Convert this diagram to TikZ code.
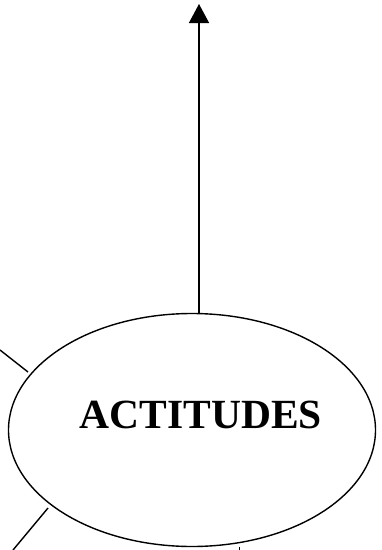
\documentclass[tikz,border=0pt]{standalone}
\usepackage{fontspec}
\setmainfont{Liberation Serif}
\usetikzlibrary{arrows.meta}
\begin{document}
\begin{tikzpicture}[x=1pt,y=-1pt,
  edge/.style={line width=1.4pt,black},
  lab/.style={font=\fontsize{41.5}{45}\selectfont\bfseries}]
\useasboundingbox (0,0) rectangle (381,550);
\draw[edge] (192,430) ellipse [x radius=183.5, y radius=116.5];
\node[lab] (t) at (201,415) {ACTITUDES};
\coordinate (top) at (199,313.5);
\coordinate (tip) at (199,4);
\draw[edge,-{Triangle[length=19pt,width=20pt]}] (top) -- (tip);
\coordinate (a1) at (0,350);
\coordinate (a2) at (28,372);
\draw[edge] (a1) -- (a2);
\coordinate (b1) at (48,508);
\coordinate (b2) at (13,550);
\draw[edge] (b1) -- (b2);
\coordinate (c1) at (239,546.5);
\coordinate (c2) at (239,550);
\draw[line width=0.8pt] (c1) -- (c2);
\end{tikzpicture}
\end{document}
